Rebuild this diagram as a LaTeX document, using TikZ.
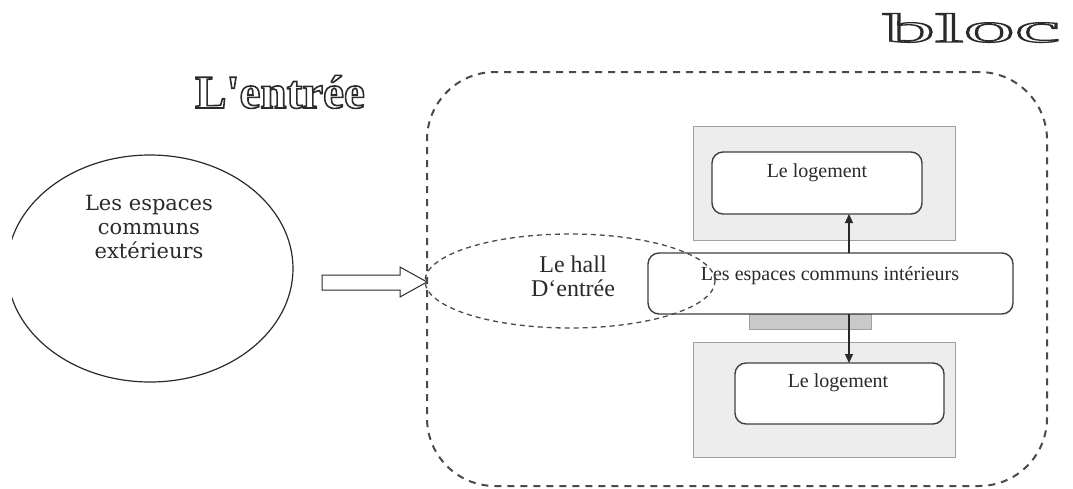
\documentclass[tikz,border=0pt]{standalone}
\usepackage{fontspec}
\setmainfont{Liberation Serif}
\newfontfamily\widefont{DejaVu Serif}
\newfontfamily\titlefont[Ligatures=TeXOff]{Liberation Serif}
\usetikzlibrary{arrows.meta,shapes.geometric}

\definecolor{ink}{HTML}{2A2A2A}
\definecolor{dashink}{HTML}{4A4A4A}
\definecolor{panel}{HTML}{EDEDED}
\definecolor{panelline}{HTML}{A0A0A0}
\definecolor{slab}{HTML}{C9C9C9}

% hollow lettering: white fill, dark stroke (PDF text render mode 2)
\newcommand\hollow[2]{{\color{white}%
  \special{pdf:literal direct 0.17 0.17 0.17 RG #1 w 2 Tr}#2%
  \special{pdf:literal direct 0 Tr 0.4 w}}}

\begin{document}
\begin{tikzpicture}[x=1pt,y=-1pt,
  every node/.style={inner sep=0pt, outer sep=0pt, text=ink},
  panelrect/.style={draw=panelline, fill=panel, line width=1pt},
  roombox/.style={draw=ink!90, fill=white, line width=1.4pt, rounded corners=11pt},
  dashzone/.style={draw=dashink, line width=2pt, dash pattern=on 7pt off 6pt},
  hallzone/.style={draw=dashink, line width=1.3pt, dash pattern=on 5pt off 4pt},
  link/.style={draw=ink, line width=1.2pt, -{Triangle[length=9pt,width=8pt]}},
  labeltext/.style={font=\fontsize{20}{22}\selectfont, anchor=base}
]
\useasboundingbox (0,0) rectangle (1073,488);

% titles, outlined lettering
\node[anchor=base, font=\titlefont\bfseries\fontsize{47}{50}\selectfont]
  (title) at (280,108) {\hollow{1.6}{L'entrée}};
\node[anchor=base, xscale=2.5, font=\titlefont\fontsize{41}{44}\selectfont]
  (bloctitle) at (972,42) {\hollow{1.3}{bloc}};

% outdoor shared spaces (left edge trimmed)
\begin{scope}
  \clip (12,0) rectangle (1073,488);
  \node[ellipse, draw=ink, line width=1.2pt, minimum width=286pt, minimum height=227pt]
    (outside) at (150,268.5) {};
\end{scope}
\node[align=center, font=\widefont\fontsize{21}{24}\selectfont]
  (outsidetext) at (149,226.5) {Les espaces\\communs\\extérieurs};

% hollow entry arrow
\draw[ink, line width=1pt, fill=white]
  (322,275) -- (400,275) -- (400,267) -- (427,282) -- (400,297) -- (400,290) -- (322,290) -- cycle;

% building zone
\node[dashzone, rounded corners=68pt, minimum width=620pt, minimum height=414pt]
  (zone) at (737,279) {};

% floor panels
\node[panelrect, minimum width=262pt, minimum height=114pt] (panelA) at (824,183) {};
\node[panelrect, minimum width=262pt, minimum height=115pt] (panelB) at (824,399.5) {};
\node[draw=panelline, fill=slab, line width=1pt, minimum width=122pt, minimum height=15pt]
  (slab) at (810,321.5) {};

% rooms
\node[roombox, minimum width=210pt, minimum height=62pt] (flatA) at (817,183) {};
\node[labeltext] (flatAtext) at (817,177) {Le logement};
\node[roombox, minimum width=209pt, minimum height=61pt] (flatB) at (839.5,393.5) {};
\node[labeltext] (flatBtext) at (838,387) {Le logement};
\node[roombox, minimum width=365pt, minimum height=61pt] (common) at (830.5,283.5) {};
\node[labeltext] (commontext) at (830,280) {Les espaces communs intérieurs};

% entrance hall
\node[ellipse, hallzone, minimum width=290pt, minimum height=94pt] (hall) at (570,281) {};
\node[align=center, font=\fontsize{24}{24}\selectfont] (halltext) at (573,276)
  {Le hall\\D‘entrée};

% circulation links
\coordinate (axis) at (849,0);
\draw[link] (axis |- common.north) -- (axis |- flatA.south);
\draw[link] (axis |- common.south) -- (axis |- flatB.north);
\end{tikzpicture}
\end{document}
